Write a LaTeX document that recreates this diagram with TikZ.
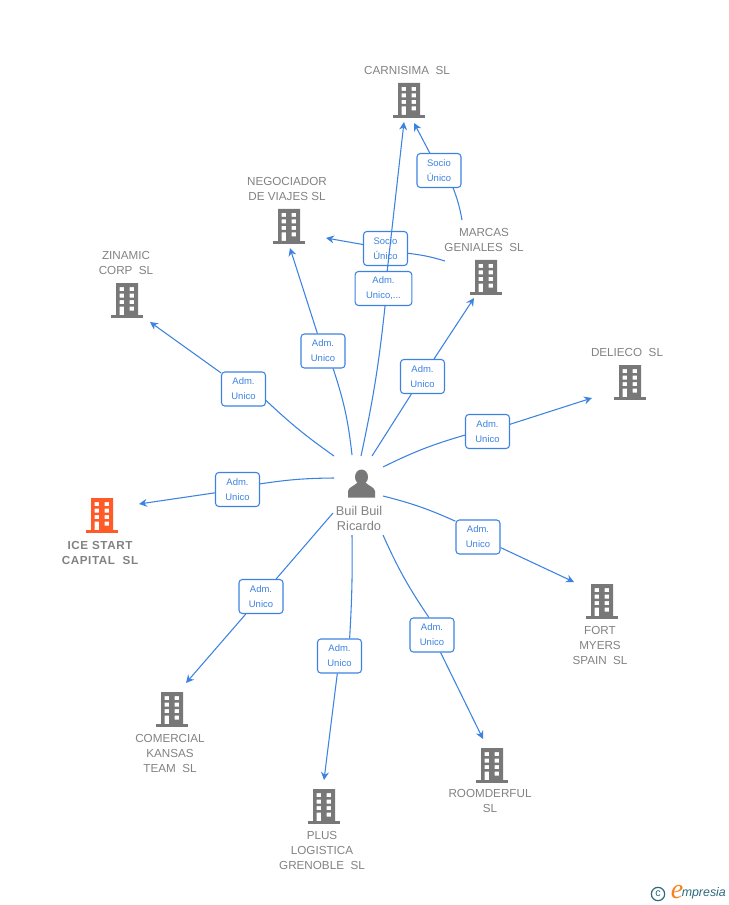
\documentclass[tikz,border=0pt]{standalone}
\usepackage{fontspec}
\setmainfont{Liberation Sans}
\newfontfamily\logofont{Liberation Serif}
\definecolor{linkblue}{RGB}{60, 130, 225}
\definecolor{firmgray}{RGB}{120, 120, 120}
\definecolor{textgray}{RGB}{130, 130, 130}
\definecolor{iceorange}{RGB}{255, 90, 40}
\definecolor{logoteal}{RGB}{45, 105, 125}
\definecolor{logoorange}{RGB}{245, 130, 30}
\usetikzlibrary{arrows.meta, positioning, calc}
\tikzset{
  firmlabel/.style={font=\fontsize{8.75}{11.25}\selectfont, text=textgray, align=center, inner sep=0pt},
  rolebox/.style={draw=linkblue, fill=white, rounded corners=2.5pt, line width=0.8pt, text=linkblue,
    font=\fontsize{7.1}{11.25}\selectfont, align=center, minimum width=33pt, minimum height=25.5pt, inner sep=0pt},
  link/.style={draw=linkblue, line width=0.8pt},
  linkarrow/.style={link, -{Stealth[length=6pt, width=6pt, inset=2pt]}},
  pics/building/.style={code={
    \fill[#1, even odd rule] (-11,-17) rectangle (11,15)
      (-7.5,-13) rectangle (-3,-9) (2.5,-13) rectangle (7,-9)
      (-7.5,-6.5) rectangle (-3,-2.5) (2.5,-6.5) rectangle (7,-2.5)
      (-7.5,0) rectangle (-3,4) (2.5,0) rectangle (7,4)
      (-7.5,6.5) rectangle (-3,15) (2.5,6.5) rectangle (7,10.5);
    \fill[#1] (-16,15) rectangle (16,18);
  }},
}
\begin{document}
\begin{tikzpicture}[x=0.75pt, y=-0.75pt]
  \useasboundingbox (0,0) rectangle (728,905);

  % Companies
  \pic at (409,100) {building=firmgray};
  \node[firmlabel] (carnisima) at (407,70.5) {CARNISIMA\ \ SL};
  \pic at (289,226) {building=firmgray};
  \node[firmlabel] (negociador) at (287,188.5) {NEGOCIADOR\\DE VIAJES SL};
  \pic at (127,300) {building=firmgray};
  \node[firmlabel] (zinamic) at (126,262.5) {ZINAMIC\\CORP\ \ SL};
  \pic at (486,277) {building=firmgray};
  \node[firmlabel] (marcas) at (484,239.5) {MARCAS\\GENIALES\ \ SL};
  \pic at (630,382) {building=firmgray};
  \node[firmlabel] (delieco) at (627,352.5) {DELIECO\ \ SL};
  \pic at (102,515) {building=iceorange};
  \node[firmlabel, font=\fontsize{8.75}{11.25}\selectfont\bfseries\addfontfeature{LetterSpace=5}] (icestart) at (100,552.5) {ICE START\\CAPITAL\ \ SL};
  \pic at (602,601) {building=firmgray};
  \node[firmlabel] (fortmyers) at (600,645) {FORT\\MYERS\\SPAIN\ \ SL};
  \pic at (172,709) {building=firmgray};
  \node[firmlabel] (comercial) at (170,753) {COMERCIAL\\KANSAS\\TEAM\ \ SL};
  \pic at (324,806) {building=firmgray};
  \node[firmlabel] (plus) at (322,850) {PLUS\\LOGISTICA\\GRENOBLE\ \ SL};
  \pic at (492,765) {building=firmgray};
  \node[firmlabel] (roomderful) at (490,800.5) {ROOMDERFUL\\SL};

  % Person
  \fill[firmgray] (361.5,477) ellipse (6.5 and 7.5);
  \fill[firmgray] (348,497.5) -- (348,491) .. controls (349,487) and (354,486) .. (357,483)
    -- (366,483) .. controls (369,486) and (374,487) .. (375,491) -- (375,497.5) -- cycle;
  \node[firmlabel, font=\fontsize{9.6}{11.25}\selectfont] (person) at (359,518.5) {Buil Buil\\Ricardo};

  % Role boxes
  \node[rolebox] (zinamicrole) at (243.5,389) {Adm.\\Unico};
  \node[rolebox] (negociadorrole) at (323,351) {Adm.\\Unico};
  \node[rolebox] (socionegociador) at (385.5,248.5) {Socio\\Único};
  \node[rolebox] (sociocarnisima) at (439,170.5) {Socio\\Único};
  \node[rolebox] (marcasrole) at (422.5,376.5) {Adm.\\Unico};
  \node[rolebox] (deliecorole) at (487.5,431.5) {Adm.\\Unico};
  \node[rolebox] (icerole) at (237.5,489.5) {Adm.\\Unico};
  \node[rolebox] (fortrole) at (478,537) {Adm.\\Unico};
  \node[rolebox] (comercialrole) at (261,596.5) {Adm.\\Unico};
  \node[rolebox] (plusrole) at (339.5,656) {Adm.\\Unico};
  \node[rolebox] (roomrole) at (432,635) {Adm.\\Unico};

  % Free ends
  \coordinate (zinamicfrom) at (334,456);
  \coordinate (zinamicto) at (150,322);
  \coordinate (negociadorfrom) at (352,455);
  \coordinate (negociadorto) at (290,248);
  \coordinate (carnisimafrom) at (361,456);
  \coordinate (carnisimato) at (404,122);
  \coordinate (marcasfrom) at (372,456);
  \coordinate (marcasto) at (474,298);
  \coordinate (deliecofrom) at (383,467);
  \coordinate (deliecoto) at (592,398);
  \coordinate (icefrom) at (334,478);
  \coordinate (iceto) at (139,504);
  \coordinate (fortfrom) at (383,496);
  \coordinate (fortto) at (574,582);
  \coordinate (comercialfrom) at (333,513);
  \coordinate (comercialto) at (186,683);
  \coordinate (plusfrom) at (352,535);
  \coordinate (plusto) at (324,780);
  \coordinate (roomfrom) at (383,535);
  \coordinate (roomto) at (483,739);
  \coordinate (marcastop) at (462,220);
  \coordinate (sociocarnisimato) at (414,123);
  \coordinate (marcasleft) at (445,261);
  \coordinate (socionegociadorto) at (326,238);

  % Links
  \draw[link] (zinamicfrom) to[bend left=4] (zinamicrole.-27);
  \draw[linkarrow] (zinamicrole) -- (zinamicto);
  \draw[link] (negociadorfrom) to[bend right=6] (negociadorrole.-60);
  \draw[linkarrow] (negociadorrole) -- (negociadorto);
  \draw[link] (marcasfrom) -- (marcasrole);
  \draw[linkarrow] (marcasrole) -- (marcasto);
  \draw[link] (deliecofrom) to[bend left=5] (deliecorole.189);
  \draw[linkarrow] (deliecorole) -- (deliecoto);
  \draw[link] (icefrom) to[bend right=4] (icerole.14);
  \draw[linkarrow] (icerole) -- (iceto);
  \draw[link] (fortfrom) to[bend left=5] (fortrole.145);
  \draw[linkarrow] (fortrole) -- (fortto);
  \draw[link] (comercialfrom) -- (comercialrole);
  \draw[linkarrow] (comercialrole) -- (comercialto);
  \draw[link] (plusfrom) to[bend left=2] (plusrole.60);
  \draw[linkarrow] (plusrole) -- (plusto);
  \draw[link] (roomfrom) to[bend right=5] (roomrole.100);
  \draw[linkarrow] (roomrole) -- (roomto);
  \draw[link] (marcastop) to[bend right=5] (sociocarnisima.-51);
  \draw[linkarrow] (sociocarnisima) -- (sociocarnisimato);
  \draw[link] (marcasleft) to[bend right=5] (socionegociador.-12);
  \draw[linkarrow] (socionegociador) -- (socionegociadorto);

  % Second role runs across the Socio box
  \node[rolebox, minimum width=42.5pt] (carnisimarole) at (383.5,288.5) {Adm.\\Unico,...};
  \draw[link] (carnisimafrom) to[bend right=3] (carnisimarole.-85);
  \draw[linkarrow] (carnisimarole.78) -- (carnisimato);

  % Logo
  \node[circle, draw=logoteal, line width=0.9pt, text=logoteal, inner sep=0pt, minimum size=10pt, font=\fontsize{8}{8}\selectfont] (logoc) at (658,894) {c};
  \node[font=\logofont\itshape\fontsize{21}{21}\selectfont, text=logoorange, inner sep=0pt] (logoe) at (677,892) {e};
  \node[right=-1.5pt of logoe, yshift=-1pt, font=\itshape\fontsize{9.3}{10}\selectfont, text=logoteal, inner sep=0pt] (logotext) {mpresia};
\end{tikzpicture}
\end{document}
